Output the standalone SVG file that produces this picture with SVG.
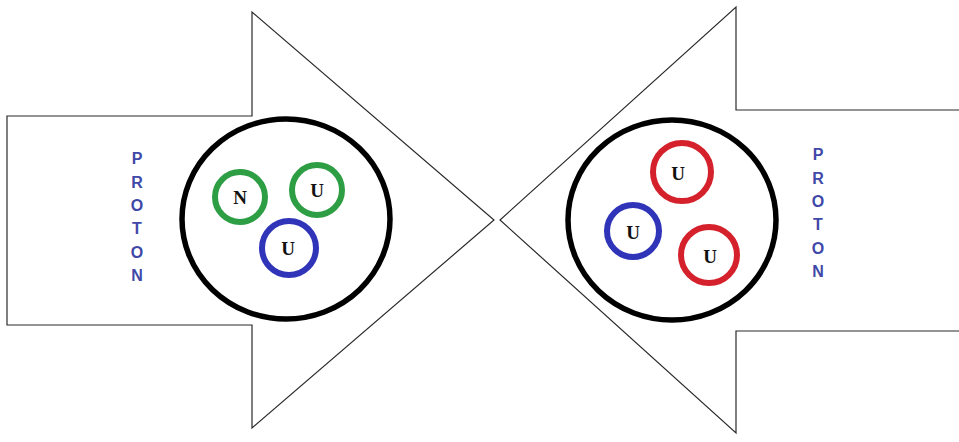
<svg xmlns="http://www.w3.org/2000/svg" width="959" height="442" viewBox="0 0 959 442">
<style>
.arrow{fill:none;stroke:#2a2a2a;stroke-width:1.2}
.big{fill:none;stroke:#000;stroke-width:5.5}
.q{fill:none;stroke-width:6}
.g{stroke:#2e9e45}
.b{stroke:#2f34b8}
.r{stroke:#d4212c}
.lbl{font-family:"Liberation Serif",serif;font-weight:bold;font-size:19px;fill:#111;text-anchor:middle}
.pr{font-family:"Liberation Sans",Arial,sans-serif;font-weight:bold;font-size:16px;fill:#4048a8;text-anchor:middle}
</style>
<rect width="959" height="442" fill="#fff"/>
<g id="proton-left">
<path class="arrow" d="M7,116 H252 V12 L494,220 L252,428 V325 H7 Z"/>
<text class="pr" x="137" y="164">P</text>
<text class="pr" x="137" y="188">R</text>
<text class="pr" x="137" y="211">O</text>
<text class="pr" x="137" y="234">T</text>
<text class="pr" x="137" y="258">O</text>
<text class="pr" x="137" y="281">N</text>
<ellipse class="big" cx="286" cy="219" rx="104" ry="100"/>
<g id="quark-l1"><circle class="q g" cx="240" cy="197" r="25"/><text class="lbl" x="240" y="204">N</text></g>
<g id="quark-l2"><circle class="q g" cx="317" cy="190" r="25"/><text class="lbl" x="317" y="197">U</text></g>
<g id="quark-l3"><circle class="q b" cx="289" cy="248" r="27"/><text class="lbl" x="288" y="255">U</text></g>
</g>
<g id="proton-right">
<path class="arrow" d="M959,110 H736 V7 L500,220 L736,433 V331 H959"/>
<text class="pr" x="818" y="160">P</text>
<text class="pr" x="818" y="184">R</text>
<text class="pr" x="818" y="207">O</text>
<text class="pr" x="818" y="230">T</text>
<text class="pr" x="818" y="254">O</text>
<text class="pr" x="818" y="277">N</text>
<ellipse class="big" cx="672" cy="220" rx="104" ry="100"/>
<g id="quark-r1"><circle class="q r" cx="682" cy="172" r="29"/><text class="lbl" x="678" y="180">U</text></g>
<g id="quark-r2"><circle class="q b" cx="633" cy="231" r="26"/><text class="lbl" x="633" y="239">U</text></g>
<g id="quark-r3"><circle class="q r" cx="709" cy="255" r="28"/><text class="lbl" x="710" y="263">U</text></g>
</g>
<g id="connectors"></g>
</svg>
